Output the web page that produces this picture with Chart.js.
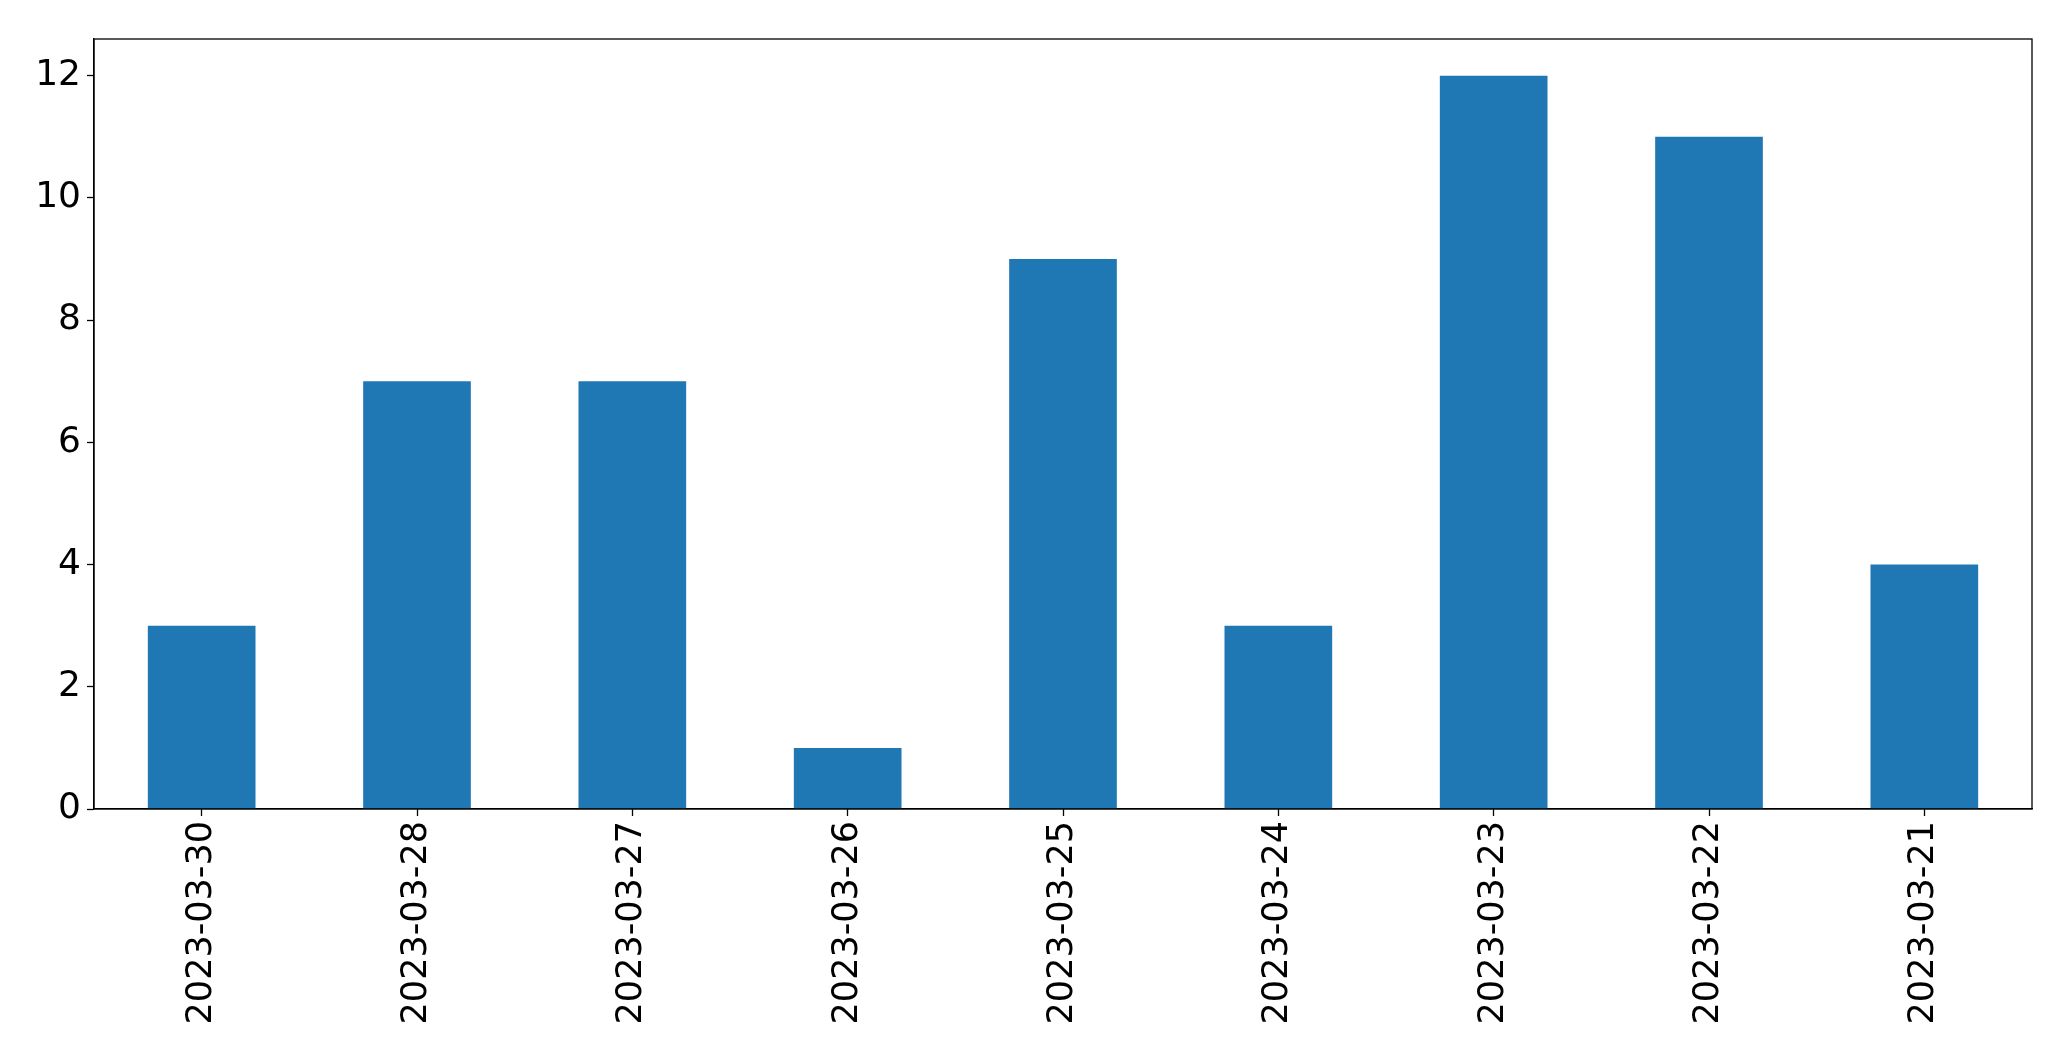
<!DOCTYPE html>
<html>
<head>
<meta charset="utf-8">
<script src="https://cdn.jsdelivr.net/npm/chart.js@4.4.0/dist/chart.umd.min.js"></script>
<style>
  html, body { margin: 0; padding: 0; background: #fff; }
  #wrap { width: 2071px; height: 1061px; }
</style>
</head>
<body>
<div id="wrap"><canvas id="chart" width="2071" height="1061"></canvas></div>
<script>
const dates = ['2023-03-30', '2023-03-28', '2023-03-27', '2023-03-26', '2023-03-25',
               '2023-03-24', '2023-03-23', '2023-03-22', '2023-03-21']
const counts = [3, 7, 7, 1, 9, 3, 12, 11, 4]
const yTicks = [0, 2, 4, 6, 8, 10, 12]

// frame round the plot like matplotlib's spines
const frame = {
  id: 'frame',
  afterDraw(chart) {
    const a = chart.chartArea
    const ctx = chart.ctx
    ctx.save()
    ctx.strokeStyle = '#000'
    ctx.lineWidth = 1.3
    ctx.strokeRect(a.left, a.top, a.right - a.left, a.bottom - a.top)
    ctx.restore()
  }
}

const font = { family: 'DejaVu Sans', size: 35 }

new Chart(document.getElementById('chart'), {
  type: 'bar',
  data: {
    labels: dates,
    datasets: [{
      data: counts,
      backgroundColor: '#1f77b4',
      barPercentage: 0.5,
      categoryPercentage: 1.0
    }]
  },
  options: {
    responsive: false,
    animation: false,
    layout: { padding: { top: 39, right: 39, left: 0, bottom: 0 } },
    plugins: { legend: { display: false }, tooltip: { enabled: false } },
    scales: {
      x: {
        grid: { offset: false, drawOnChartArea: false, drawTicks: true, tickLength: 7, tickColor: '#000', tickWidth: 1.3 },
        border: { display: true, color: '#000', width: 1.3 },
        ticks: { color: '#000', font: font, minRotation: 90, maxRotation: 90, autoSkip: false, padding: 5 },
        afterFit(scale) { scale.height = 252 }
      },
      y: {
        min: 0,
        max: 12.6,
        afterBuildTicks(scale) { scale.ticks = yTicks.map(v => ({ value: v })) },
        grid: { drawOnChartArea: false, drawTicks: true, tickLength: 7, tickColor: '#000', tickWidth: 1.3 },
        border: { display: true, color: '#000', width: 1.3 },
        ticks: { color: '#000', font: { family: 'DejaVu Sans', size: 36 }, padding: 6 },
        afterFit(scale) { scale.width = 94 }
      }
    }
  },
  plugins: [frame]
})
</script>
</body>
</html>
